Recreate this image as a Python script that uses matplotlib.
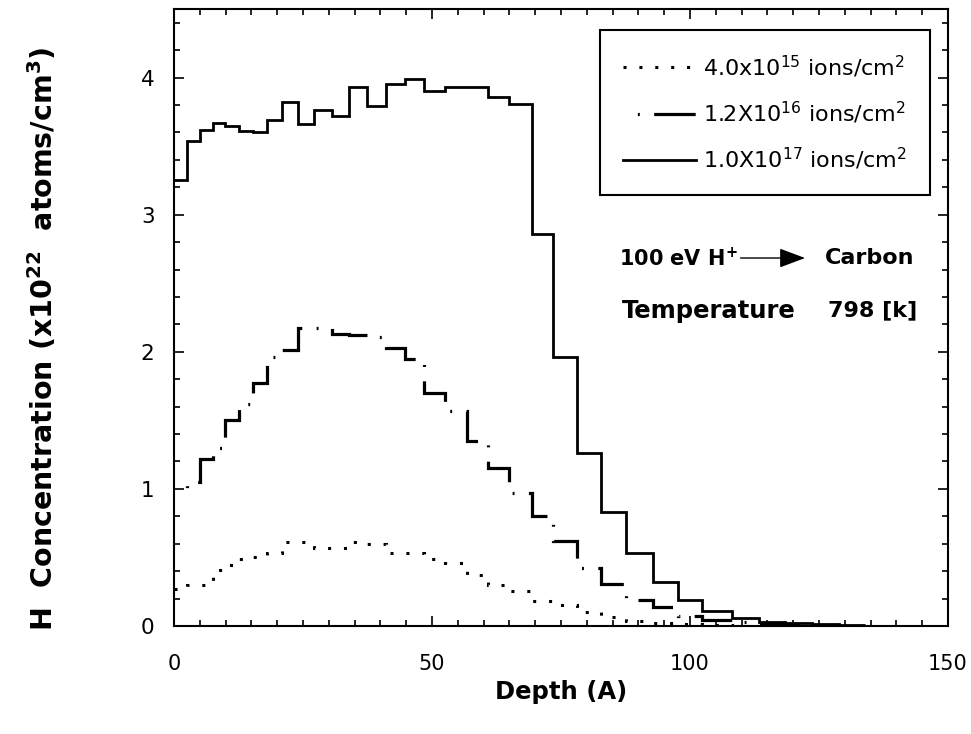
import numpy as np
import matplotlib
matplotlib.use("Agg")
import matplotlib.pyplot as plt
from matplotlib.ticker import MultipleLocator

plt.rcParams['font.family'] = ['DejaVu Sans']
plt.rcParams['mathtext.default'] = 'regular'

# bin edges along depth (A)
edges = [0, 2.5, 5.0, 7.5, 9.9, 12.5, 15.4, 18.1, 20.9, 24.0, 27.1, 30.6, 34.0,
         37.4, 41.1, 44.8, 48.5, 52.6, 56.7, 60.8, 65.0, 69.4, 73.4, 78.1, 82.8,
         87.6, 92.8, 97.6, 102.3, 108.1, 113.3, 118.5, 123.7, 128.9, 134.0]

# H concentration (x1e22 atoms/cm3) per bin
conc_4e15 = [0.27, 0.30, 0.30, 0.41, 0.445, 0.49, 0.505, 0.53, 0.615, 0.61, 0.57,
             0.567, 0.61, 0.60, 0.53, 0.53, 0.486, 0.457, 0.37, 0.30, 0.255, 0.18,
             0.15, 0.105, 0.065, 0.035, 0.02, 0.012, 0.006, 0.003, 0.0, 0.0, 0.0, 0.0]
conc_12e16 = [1.0, 1.05, 1.22, 1.30, 1.50, 1.62, 1.77, 1.96, 2.01, 2.17, 2.17, 2.13,
              2.12, 2.11, 2.03, 1.95, 1.70, 1.57, 1.35, 1.15, 0.97, 0.80, 0.62, 0.42,
              0.31, 0.19, 0.14, 0.07, 0.045, 0.03, 0.02, 0.012, 0.006, 0.003]
conc_1e17 = [3.25, 3.54, 3.62, 3.67, 3.65, 3.61, 3.60, 3.69, 3.82, 3.66, 3.76, 3.72,
             3.93, 3.79, 3.95, 3.99, 3.90, 3.93, 3.93, 3.86, 3.81, 2.86, 1.96, 1.26,
             0.83, 0.53, 0.32, 0.19, 0.11, 0.056, 0.03, 0.02, 0.012, 0.006]

labels = ['4.0x10$^{15}$ ions/cm$^2$',
          '1.2X10$^{16}$ ions/cm$^2$',
          '1.0X10$^{17}$ ions/cm$^2$']

fig = plt.figure(figsize=(9.71, 7.34), dpi=100)
ax = fig.add_axes([0.1792, 0.1471, 0.7971, 0.8406])

ax.stairs(conc_4e15, edges, baseline=None, color='k', lw=2.2,
          linestyle=(0, (1, 4.2)), label=labels[0])
ax.stairs(conc_12e16, edges, baseline=None, color='k', lw=2.3,
          linestyle=(13, (13, 4.5, 0.6, 4.5)), label=labels[1])
ax.stairs(conc_1e17, edges, baseline=None, color='k', lw=2.0,
          linestyle='-', label=labels[2])

ax.set_xlim(0, 150)
ax.set_ylim(0, 4.5)
ax.xaxis.set_major_locator(MultipleLocator(50))
ax.xaxis.set_minor_locator(MultipleLocator(5))
ax.yaxis.set_major_locator(MultipleLocator(1))
ax.yaxis.set_minor_locator(MultipleLocator(0.2))
ax.tick_params(which='both', direction='in', top=True, right=True, width=1.2)
ax.tick_params(which='major', length=7)
ax.tick_params(which='minor', length=4)
ax.tick_params(axis='x', which='major', pad=20, labelsize=15)
ax.tick_params(axis='y', which='major', pad=14, labelsize=15.5)
for s in ax.spines.values():
    s.set_linewidth(1.5)

ax.set_xlabel('Depth (A)', fontsize=17.5, fontweight='bold')
ax.xaxis.set_label_coords(0.5, -0.088)
ax.set_ylabel('H  Concentration (x10$^{22}$  atoms/cm$^3$)', fontsize=20.5,
              fontweight='bold')
ax.yaxis.set_label_coords(-0.148, 0.465)

leg = ax.legend(loc='upper right', bbox_to_anchor=(0.977, 0.966), borderaxespad=0,
                fontsize=16, handlelength=3.3, handletextpad=0.3, labelspacing=0.9,
                fancybox=False, edgecolor='k', framealpha=1, borderpad=1.05)
leg.get_frame().set_linewidth(1.5)

ax.text(109.2, 2.684, '100 eV H$^{+}$', ha='right', va='center', fontsize=15,
        fontweight='bold')
ax.annotate('', xy=(122.3, 2.684), xytext=(109.8, 2.684),
            arrowprops=dict(arrowstyle='-|>,head_length=0.8,head_width=0.3',
                            lw=1, color='k', mutation_scale=20, shrinkA=0, shrinkB=0))
ax.text(126.2, 2.684, 'Carbon', ha='left', va='center', fontsize=16,
        fontweight='bold')
ax.text(86.8, 2.30, 'Temperature', ha='left', va='center', fontsize=17.5,
        fontweight='bold')
ax.text(126.8, 2.30, '798 [k]', ha='left', va='center', fontsize=16,
        fontweight='bold')

fig.savefig('out.png', dpi=100)
